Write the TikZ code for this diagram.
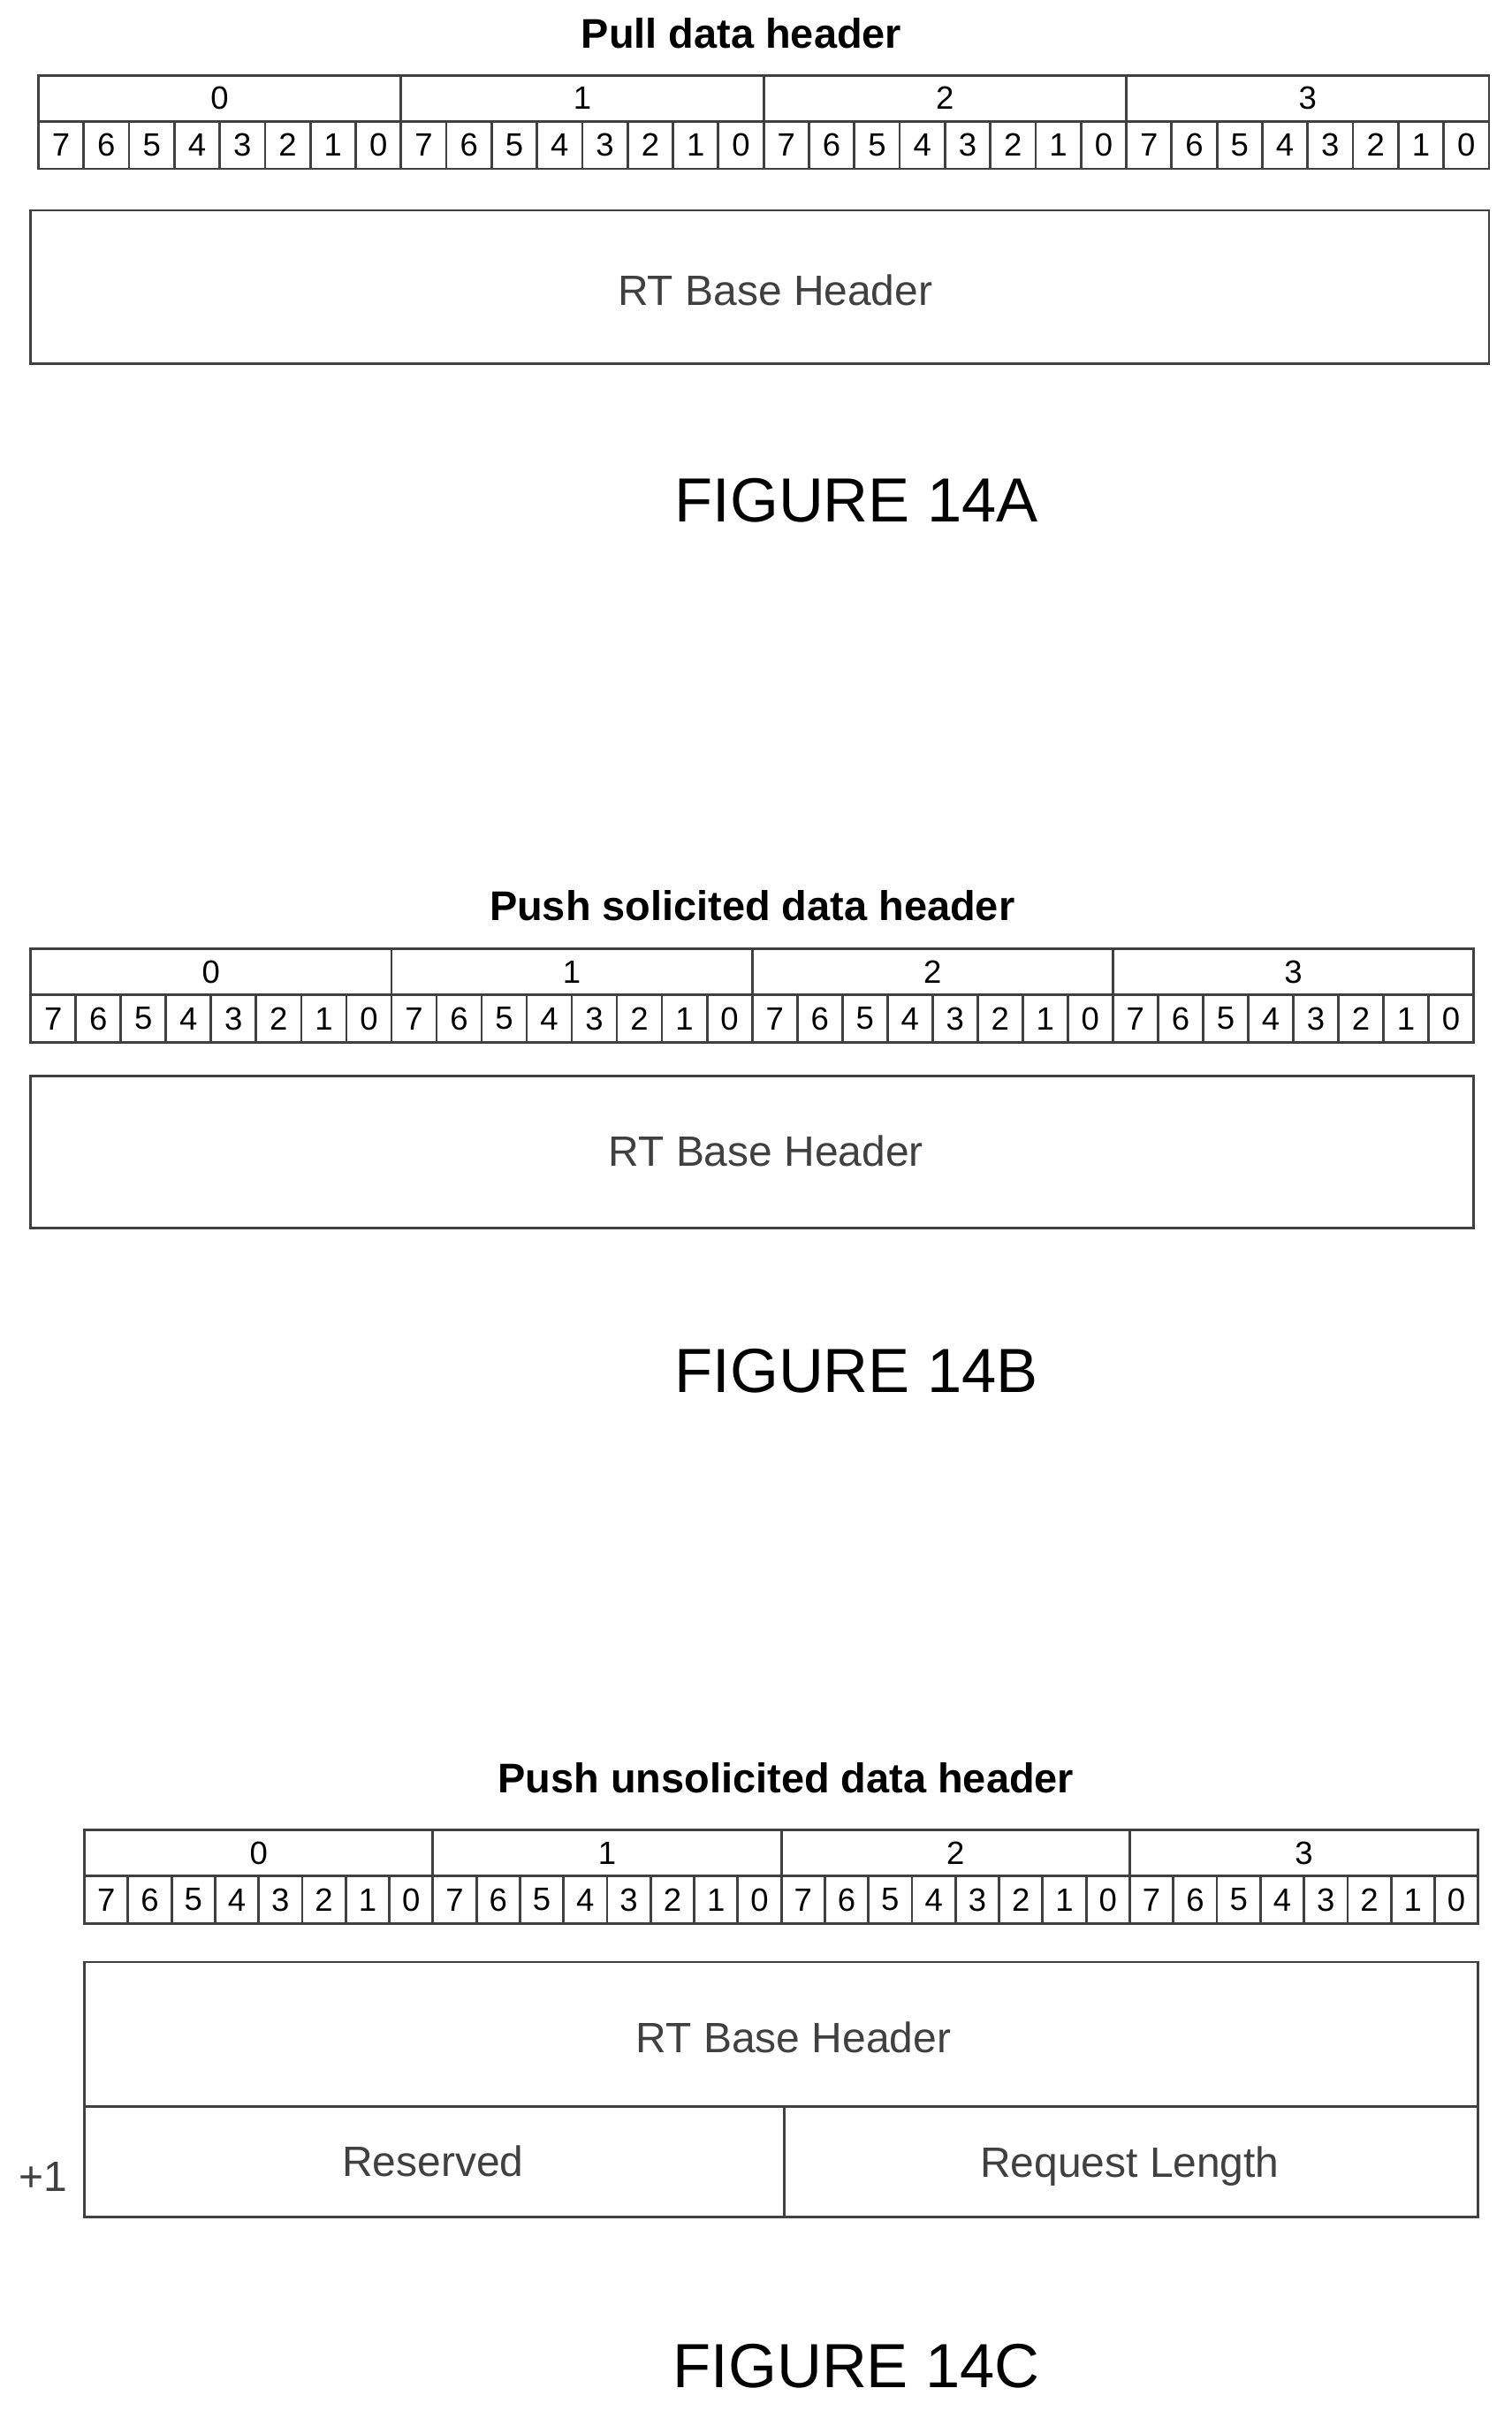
\documentclass[tikz,border=0pt]{standalone}
\usepackage{fontspec}
\setmainfont{Liberation Sans}
\begin{document}
\begin{tikzpicture}[x=0.5pt,y=-0.5pt,
  ln/.style={draw=black!75,line width=0.8pt},
  ttl/.style={font=\bfseries\fontsize{13.5}{15}\selectfont},
  fig/.style={font=\fontsize{20.3}{24}\selectfont},
  lbl/.style={font=\fontsize{13.8}{15}\selectfont,text=black!75},
  bit/.style={font=\fontsize{10.5}{12}\selectfont,inner sep=0pt}]
\useasboundingbox (0,0) rectangle (985,1570.5);
\newcommand\bittable[4]{% x0, x1, ytop, name
  \pgfmathsetmacro\w{(#2-#1)/32}
  \pgfmathsetmacro\ym{#3+30}\pgfmathsetmacro\yb{#3+61}
  \draw[ln] (#1,#3) rectangle (#2,\yb);
  \draw[ln] (#1,\ym) -- (#2,\ym);
  \foreach \b in {0,...,3}{
    \pgfmathsetmacro\xa{#1+\b*8*\w}
    \draw[ln] (\xa,#3) -- (\xa,\yb);
    \node[bit] (#4byte\b) at ({\xa+4*\w},{#3+15}) {\b};
    \foreach \k in {0,...,7}{
      \pgfmathsetmacro\xc{\xa+\k*\w}
      \pgfmathtruncatemacro\v{7-\k}
      \draw[ln] (\xc,\ym) -- (\xc,\yb);
      \node[bit] (#4bit\b\k) at ({\xc+\w/2},{\ym+15.5}) {\v};
    }}}
% Figure A
\node[ttl] (ta) at (483,22) {Pull data header};
\bittable{25}{970}{49}{a}
\node[ln,minimum width=475pt,minimum height=50pt,inner sep=0pt] (basea) at (495,187) {};
\node[lbl] at (505,189) {RT Base Header};
\node[fig] (figa) at (558,326) {FIGURE 14A};
% Figure B
\node[ttl] (tb) at (490,590) {Push solicited data header};
\bittable{20}{960}{618}{b}
\node[ln,minimum width=470pt,minimum height=49.5pt,inner sep=0pt] (baseb) at (490,750.5) {};
\node[lbl] at (499,750) {RT Base Header};
\node[fig] (figb) at (558,893) {FIGURE 14B};
% Figure C
\node[ttl] (tc) at (512,1158) {Push unsolicited data header};
\bittable{55}{963}{1192}{c}
\draw[ln] (55,1278) rectangle (963,1444);
\draw[ln] (55,1372) -- (963,1372);
\draw[ln] (511,1372) -- (511,1444);
\node[lbl] (basec) at (517,1327) {RT Base Header};
\node[lbl] (res) at (282,1408) {Reserved};
\node[lbl,anchor=base] (rlen) at (736,1418) {Request Length};
\node[lbl] (plus) at (28,1418) {+1};
\node[fig] (figc) at (558,1541) {FIGURE 14C};
\end{tikzpicture}
\end{document}
